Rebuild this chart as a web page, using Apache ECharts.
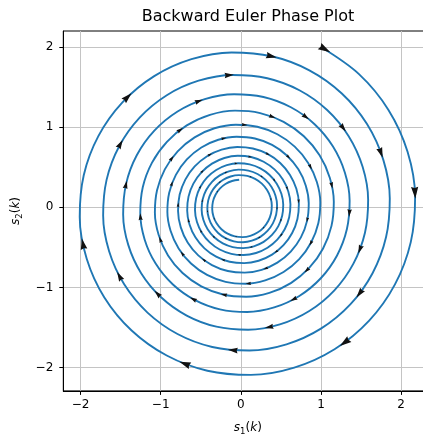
<!DOCTYPE html>
<html><head><meta charset="utf-8">
<script src="https://cdn.jsdelivr.net/npm/echarts@6/dist/echarts.min.js"></script>
<style>html,body{margin:0;padding:0;background:#fff}#c{width:423px;height:436px}</style>
</head><body><div id="c"></div>
<script>
const titleText = 'Backward Euler Phase Plot';
const xTicks = [-2, -1, 0, 1, 2];
const yTicks = [-2, -1, 0, 1, 2];
const xRange = [-2.215, 2.39];
const yRange = [-2.29, 2.2];
const R_MAX = 2.3;

// spiral trajectory (angle in degrees, radius), clockwise from (1, 2)
const turnAngles = [63.43,48.43,33.43,18.43,3.43,348.43,333.43,318.43,303.43,288.43,273.43,258.43,
 243.43,228.43,213.43,198.43,183.43,168.43,153.43,138.43,123.43,108.43,93.43,78.43];
const spiralAngle = [
 ...turnAngles, ...turnAngles, ...turnAngles, ...turnAngles,
 ...turnAngles, ...turnAngles, ...turnAngles, ...turnAngles,
 ...turnAngles, ...turnAngles, ...turnAngles,
 63.43,48.43,33.43,18.43,3.43,348.43,333.43,318.43,303.43,288.43,273.43,258.43,
 243.43,228.43,213.43,198.43,183.43,168.43,153.43,138.43,123.43,108.43,93.43];
const spiralRadius = [
 2.2361,2.2215,2.2070,2.1926,2.1783,2.1641,2.1500,2.1360,2.1220,2.1082,2.0944,2.0808,
 2.0672,2.0537,2.0403,2.0270,2.0138,2.0006,1.9876,1.9746,1.9617,1.9489,1.9362,1.9236,
 1.9111,1.8986,1.8862,1.8739,1.8617,1.8495,1.8374,1.8255,1.8136,1.8017,1.7899,1.7783,
 1.7667,1.7552,1.7437,1.7323,1.7210,1.7098,1.6987,1.6876,1.6766,1.6657,1.6548,1.6440,
 1.6333,1.6226,1.6120,1.6015,1.5911,1.5807,1.5704,1.5601,1.5499,1.5398,1.5298,1.5198,
 1.5099,1.5001,1.4903,1.4805,1.4709,1.4613,1.4518,1.4423,1.4329,1.4235,1.4142,1.4050,
 1.3958,1.3867,1.3777,1.3687,1.3598,1.3509,1.3421,1.3333,1.3246,1.3160,1.3074,1.2988,
 1.2904,1.2820,1.2736,1.2653,1.2571,1.2489,1.2407,1.2326,1.2246,1.2166,1.2087,1.2008,
 1.1929,1.1852,1.1774,1.1698,1.1621,1.1545,1.1470,1.1395,1.1321,1.1247,1.1173,1.1100,
 1.1029,1.0957,1.0885,1.0814,1.0743,1.0673,1.0604,1.0535,1.0466,1.0398,1.0330,1.0262,
 1.0195,1.0129,1.0063,0.9997,0.9932,0.9867,0.9803,0.9739,0.9675,0.9612,0.9549,0.9487,
 0.9425,0.9364,0.9303,0.9242,0.9182,0.9122,0.9062,0.9003,0.8945,0.8886,0.8828,0.8771,
 0.8713,0.8656,0.8600,0.8544,0.8488,0.8433,0.8378,0.8323,0.8269,0.8215,0.8161,0.8108,
 0.8055,0.8003,0.7950,0.7898,0.7847,0.7796,0.7745,0.7695,0.7644,0.7594,0.7545,0.7496,
 0.7447,0.7398,0.7350,0.7302,0.7254,0.7207,0.7160,0.7113,0.7067,0.7021,0.6975,0.6929,
 0.6884,0.6839,0.6795,0.6750,0.6706,0.6663,0.6619,0.6576,0.6533,0.6491,0.6448,0.6406,
 0.6364,0.6323,0.6282,0.6241,0.6200,0.6159,0.6119,0.6079,0.6040,0.6000,0.5961,0.5922,
 0.5884,0.5845,0.5807,0.5769,0.5731,0.5694,0.5657,0.5620,0.5583,0.5547,0.5511,0.5475,
 0.5439,0.5404,0.5368,0.5333,0.5299,0.5264,0.5230,0.5195,0.5162,0.5128,0.5094,0.5061,
 0.5028,0.4996,0.4963,0.4930,0.4898,0.4866,0.4835,0.4803,0.4772,0.4741,0.4710,0.4679,
 0.4648,0.4618,0.4588,0.4558,0.4528,0.4499,0.4469,0.4440,0.4411,0.4383,0.4354,0.4325,
 0.4297,0.4269,0.4241,0.4214,0.4186,0.4159,0.4132,0.4105,0.4078,0.4052,0.4025,0.3999,
 0.3973,0.3947,0.3921,0.3896,0.3870,0.3845,0.3820,0.3795,0.3770,0.3745,0.3721,0.3697,
 0.3673,0.3649,0.3625,0.3601,0.3578,0.3554,0.3531,0.3508,0.3485,0.3463,0.3440];

// direction arrows along the trajectory (angle in degrees, radius)
const arrowAngle = [62.00,4.76,307.51,250.26,193.01,135.76,78.52,21.27,324.02,266.77,
 209.53,152.28,95.03,37.78,340.53,283.28,226.04,168.79,111.54,54.29,
 357.04,299.80,242.55,185.30,128.05,70.80,13.56,316.31,259.06,201.81,
 144.57,87.32,30.07,332.82,275.57,218.33,161.08,103.83,46.58,349.33,
 292.09,234.84,177.59,120.34,63.09,5.85,308.60,251.35,194.10,136.86,
 79.61,22.36,325.11,267.87,210.62,153.37,96.12,38.87,341.63,284.38,
 227.13,169.88,112.64,55.39,358.14,300.89,243.64,186.39,129.15,71.90,
 14.65,317.40,260.15,202.91,145.66];
const arrowRadius = [2.235,2.180,2.126,2.073,2.022,1.972,1.924,1.876,1.830,1.785,
 1.741,1.698,1.656,1.615,1.575,1.536,1.498,1.461,1.425,1.390,
 1.356,1.322,1.290,1.258,1.227,1.197,1.167,1.138,1.110,1.083,
 1.056,1.030,1.005,0.980,0.956,0.932,0.909,0.887,0.865,0.843,
 0.823,0.802,0.783,0.763,0.744,0.726,0.708,0.691,0.674,0.657,
 0.641,0.625,0.610,0.594,0.580,0.566,0.552,0.538,0.525,0.512,
 0.499,0.487,0.475,0.463,0.452,0.440,0.430,0.419,0.409,0.399,
 0.389,0.379,0.370,0.361,0.352];

const FONT = 'DejaVu Sans';
const fmt = v => (v < 0 ? '\u2212' + Math.abs(v) : String(v));
const nameRich = {
  i: {fontFamily: FONT, fontSize: 12, fontStyle: 'italic', color: '#000'},
  n: {fontFamily: FONT, fontSize: 12, color: '#000'},
  sub: {fontFamily: FONT, fontSize: 8.5, color: '#000', padding: [8, 0, 0, 0]}
};

const chart = echarts.init(document.getElementById('c'), null, {renderer: 'canvas'});
const grid = {left: 63.3, top: 31, width: 369.1, height: 359.9, show: true,
  outerBoundsMode: 'none', containLabel: false,
  borderColor: '#000', borderWidth: 1, backgroundColor: 'transparent'};

chart.setOption({
  animation: false,
  backgroundColor: '#fff',
  title: {text: titleText, left: 248, top: 9, padding: 0, textAlign: 'center',
    textStyle: {fontFamily: FONT, fontSize: 16, fontWeight: 'normal', color: '#000'}},
  grid: grid,
  xAxis: {type: 'value', min: xRange[0], max: xRange[1],
    name: '{i|s}{sub|1}{n|(}{i|k}{n|)}', nameLocation: 'middle', nameGap: 28,
    nameTextStyle: {rich: nameRich},
    axisLine: {show: true, onZero: false, lineStyle: {color: '#000', width: 1}},
    axisTick: {show: true, length: 4, customValues: xTicks, lineStyle: {color: '#000'}},
    axisLabel: {customValues: xTicks, formatter: fmt, fontFamily: FONT, fontSize: 12, color: '#000', margin: 8},
    splitLine: {show: true, lineStyle: {color: '#c4c4c4', width: 1}}},
  yAxis: {type: 'value', min: yRange[0], max: yRange[1],
    name: '{i|s}{sub|2}{n|(}{i|k}{n|)}', nameLocation: 'middle', nameGap: 31, nameRotate: 90,
    nameTextStyle: {rich: nameRich},
    axisLine: {show: true, onZero: false, lineStyle: {color: '#000', width: 1}},
    axisTick: {show: true, length: 4, customValues: yTicks, lineStyle: {color: '#000'}},
    axisLabel: {customValues: yTicks, formatter: fmt, fontFamily: FONT, fontSize: 12, color: '#000', margin: 10},
    splitLine: {show: true, lineStyle: {color: '#c4c4c4', width: 1}}}
});

const c0 = chart.convertToPixel({gridIndex: 0}, [0, 0]);
const c1 = chart.convertToPixel({gridIndex: 0}, [R_MAX, 0]);
const radiusPx = c1[0] - c0[0];

const spiralData = spiralRadius.map((r, i) => [r, spiralAngle[i]]);
const arrowData = arrowRadius.map((r, i) => {
  const L = Math.max(5.5 * r, 1.2);
  return {value: [r, arrowAngle[i]], symbolRotate: arrowAngle[i] - 181.4, symbolSize: [0.6 * L, L]};
});

chart.setOption({
  polar: {center: c0, radius: radiusPx},
  angleAxis: {type: 'value', min: 0, max: 360, startAngle: 0, clockwise: false,
    axisLine: {show: false}, axisTick: {show: false}, axisLabel: {show: false}, splitLine: {show: false}},
  radiusAxis: {type: 'value', min: 0, max: R_MAX,
    axisLine: {show: false}, axisTick: {show: false}, axisLabel: {show: false}, splitLine: {show: false}},
  series: [
    {type: 'line', coordinateSystem: 'polar', data: spiralData, symbol: 'none', smooth: 0.34,
      lineStyle: {color: '#1f77b4', width: 1.9}, z: 3, silent: true},
    {type: 'scatter', coordinateSystem: 'polar', data: arrowData,
      symbol: 'path://M0,0L3,10L0,9L-3,10Z', itemStyle: {color: '#111', opacity: 1}, z: 4, silent: true}
  ]
});
</script></body></html>
